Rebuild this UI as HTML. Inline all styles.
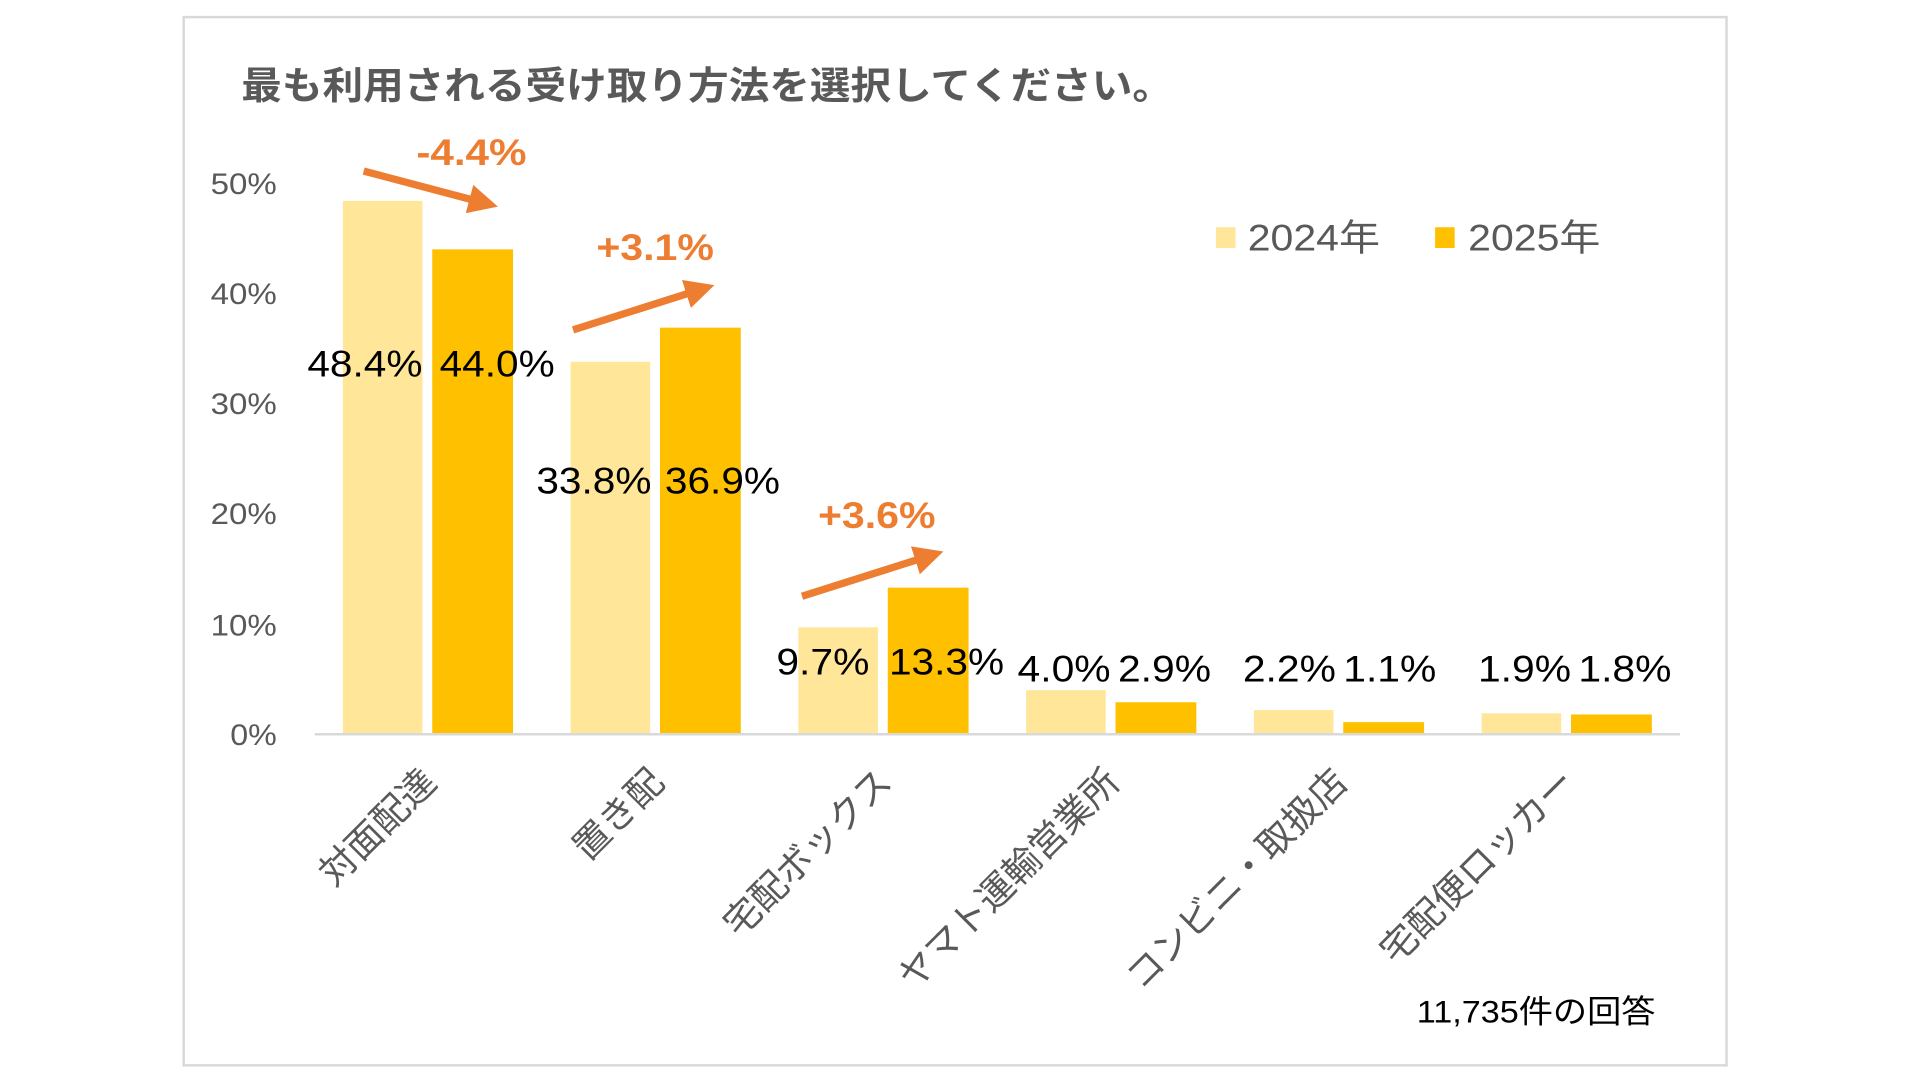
<!DOCTYPE html>
<html><head><meta charset="utf-8"><style>
html,body{margin:0;padding:0;background:#fff;width:1920px;height:1080px;overflow:hidden}
svg{display:block}
text{font-family:"Liberation Sans","Noto Sans CJK JP",sans-serif}
</style></head><body>
<svg width="1920" height="1080" viewBox="0 0 1568 884" preserveAspectRatio="none">
<rect x="150" y="14" width="1260" height="858" fill="#fff" stroke="#d9d9d9" stroke-width="2"/>
<text x="197" y="81" font-size="31" font-weight="bold" fill="#595959" textLength="761" lengthAdjust="spacingAndGlyphs">最も利用される受け取り方法を選択してください。</text>
<g font-size="24" fill="#595959" text-anchor="end">
<text x="226" y="159" textLength="54" lengthAdjust="spacingAndGlyphs">50%</text><text x="226" y="249" textLength="54" lengthAdjust="spacingAndGlyphs">40%</text><text x="226" y="339" textLength="54" lengthAdjust="spacingAndGlyphs">30%</text>
<text x="226" y="429" textLength="54" lengthAdjust="spacingAndGlyphs">20%</text><text x="226" y="520" textLength="54" lengthAdjust="spacingAndGlyphs">10%</text><text x="226" y="610" textLength="38" lengthAdjust="spacingAndGlyphs">0%</text>
</g>
<g>
<rect x="280" y="164.4" width="65" height="436.6" fill="#FFE699"/>
<rect x="353" y="204.1" width="66" height="396.9" fill="#FFC000"/>
<rect x="466" y="296.1" width="65" height="304.9" fill="#FFE699"/>
<rect x="539" y="268.2" width="66" height="332.8" fill="#FFC000"/>
<rect x="652" y="513.5" width="65" height="87.5" fill="#FFE699"/>
<rect x="725" y="481" width="66" height="120" fill="#FFC000"/>
<rect x="838" y="564.9" width="65" height="36.1" fill="#FFE699"/>
<rect x="911" y="574.8" width="66" height="26.2" fill="#FFC000"/>
<rect x="1024" y="581.2" width="65" height="19.8" fill="#FFE699"/>
<rect x="1097" y="591.1" width="66" height="9.9" fill="#FFC000"/>
<rect x="1210" y="583.9" width="65" height="17.1" fill="#FFE699"/>
<rect x="1283" y="584.8" width="66" height="16.2" fill="#FFC000"/>
</g>
<line x1="257" y1="601" x2="1372" y2="601" stroke="#d9d9d9" stroke-width="2"/>
<g font-size="30" fill="#000" text-anchor="middle">
<text x="298" y="308" textLength="94" lengthAdjust="spacingAndGlyphs">48.4%</text><text x="406" y="308" textLength="94" lengthAdjust="spacingAndGlyphs">44.0%</text>
<text x="485" y="404" textLength="94" lengthAdjust="spacingAndGlyphs">33.8%</text><text x="590" y="404" textLength="94" lengthAdjust="spacingAndGlyphs">36.9%</text>
<text x="672" y="552" textLength="76" lengthAdjust="spacingAndGlyphs">9.7%</text><text x="773" y="552" textLength="94" lengthAdjust="spacingAndGlyphs">13.3%</text>
<text x="869" y="558" textLength="76" lengthAdjust="spacingAndGlyphs">4.0%</text><text x="951" y="558" textLength="76" lengthAdjust="spacingAndGlyphs">2.9%</text>
<text x="1053" y="558" textLength="76" lengthAdjust="spacingAndGlyphs">2.2%</text><text x="1135" y="558" textLength="76" lengthAdjust="spacingAndGlyphs">1.1%</text>
<text x="1245" y="558" textLength="76" lengthAdjust="spacingAndGlyphs">1.9%</text><text x="1327" y="558" textLength="76" lengthAdjust="spacingAndGlyphs">1.8%</text>
</g>
<g font-size="30" font-weight="bold" fill="#ED7D31" text-anchor="middle">
<text x="385" y="135" textLength="90" lengthAdjust="spacingAndGlyphs">-4.4%</text><text x="535" y="213" textLength="96" lengthAdjust="spacingAndGlyphs">+3.1%</text><text x="716" y="432" textLength="96" lengthAdjust="spacingAndGlyphs">+3.6%</text>
</g>
<defs><marker id="ah" markerWidth="4" markerHeight="4" refX="2" refY="2" orient="auto"><path d="M0,0 L4,2 L0,4 z" fill="#ED7D31"/></marker></defs>
<g stroke="#ED7D31" stroke-width="6" marker-end="url(#ah)">
<line x1="297" y1="140" x2="395" y2="166"/>
<line x1="468" y1="270" x2="572" y2="237"/>
<line x1="655" y1="488" x2="759" y2="455"/>
</g>
<g font-size="30" fill="#595959">
<rect x="993" y="186" width="16" height="17" fill="#FFE699"/><text x="1019" y="205" textLength="108" lengthAdjust="spacingAndGlyphs">2024年</text>
<rect x="1172" y="186" width="16" height="17" fill="#FFC000"/><text x="1199" y="205" textLength="108" lengthAdjust="spacingAndGlyphs">2025年</text>
</g>
<g font-size="30" fill="#595959" text-anchor="end">
<text transform="translate(358,642) rotate(-45)">対面配達</text>
<text transform="translate(544,642) rotate(-45)">置き配</text>
<text transform="translate(730,642) rotate(-45)">宅配ボックス</text>
<text transform="translate(916,642) rotate(-45)">ヤマト運輸営業所</text>
<text transform="translate(1102,642) rotate(-45)">コンビニ・取扱店</text>
<text transform="translate(1288,642) rotate(-45)">宅配便ロッカー</text>
</g>
<text x="1352" y="837" font-size="26" fill="#000" text-anchor="end" textLength="195" lengthAdjust="spacingAndGlyphs">11,735件の回答</text>
</svg>
</body></html>
